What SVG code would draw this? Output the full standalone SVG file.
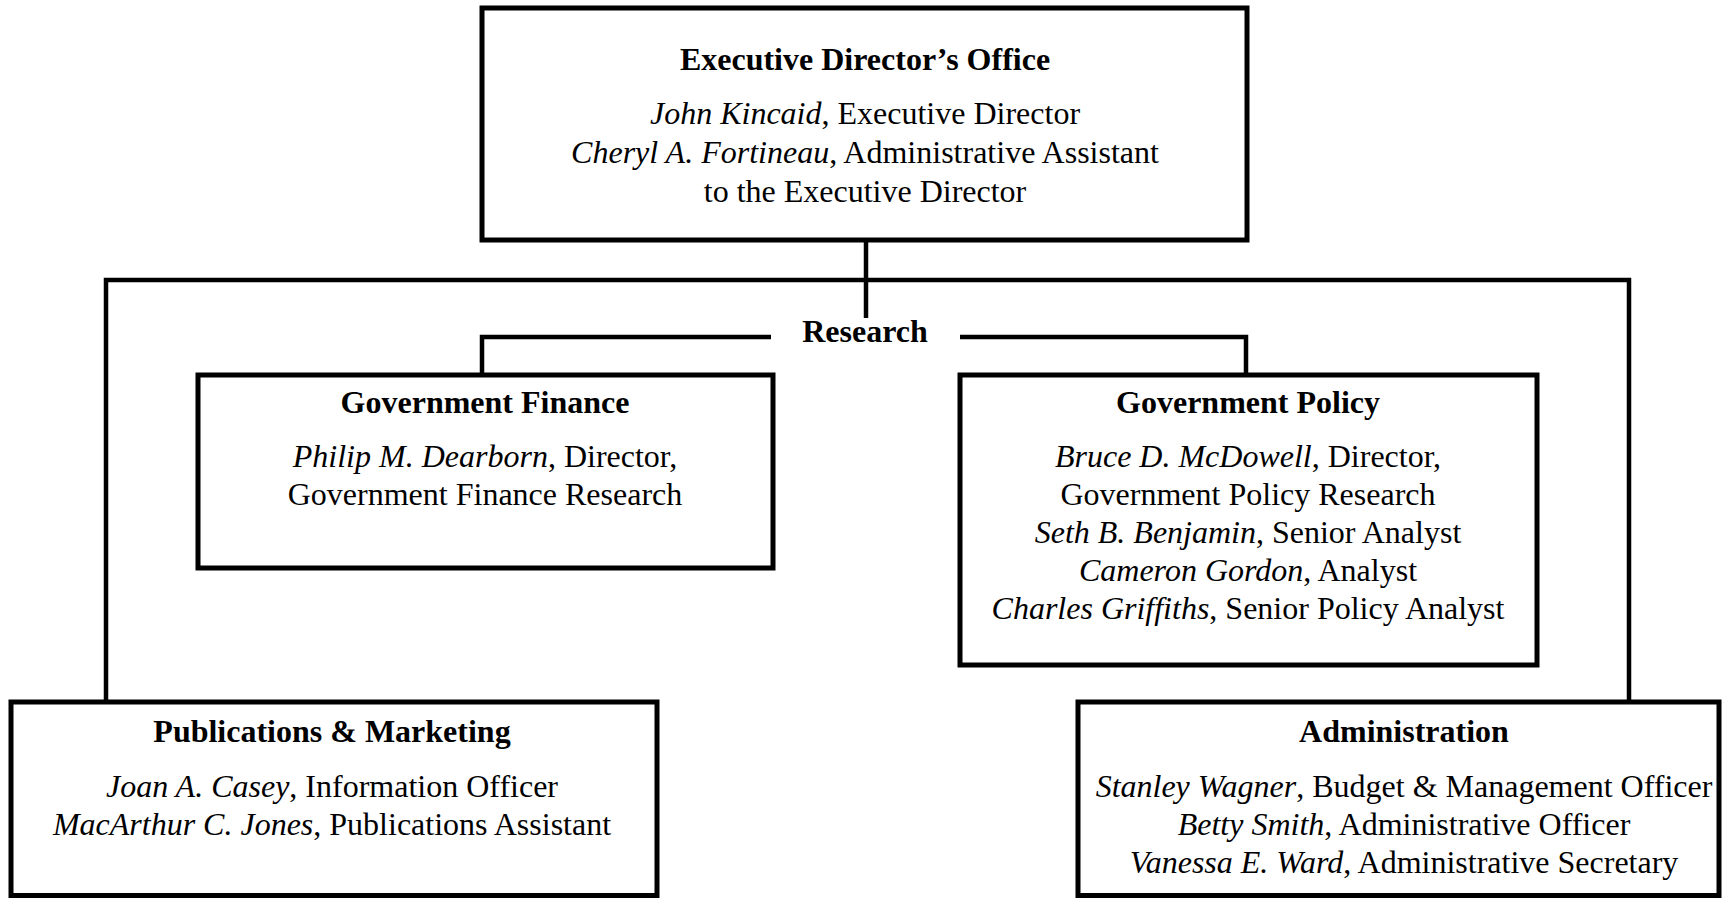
<svg xmlns="http://www.w3.org/2000/svg" width="1722" height="898" viewBox="0 0 1722 898">
  <style>
    .box { fill: #ffffff; stroke: #000000; stroke-width: 5; }
    .link { fill: none; stroke: #000000; stroke-width: 4.5; stroke-linejoin: miter; }
    text { font-family: "Liberation Serif", "Times New Roman", serif; font-size: 32px; fill: #000000; text-anchor: middle; }
    .title { font-weight: bold; }
    .name { font-style: italic; }
  </style>
  <rect x="0" y="0" width="1722" height="898" fill="#ffffff"/>

  <!-- connectors -->
  <g id="connectors">
    <!-- executive office down to the bus and to Research -->
    <line class="link" x1="866" y1="240" x2="866" y2="318"/>
    <!-- main bus to Publications and Administration -->
    <polyline class="link" points="106,702 106,280 1629,280 1629,702"/>
    <!-- Research branches -->
    <polyline class="link" points="482,375 482,337 771,337"/>
    <polyline class="link" points="960,337 1246,337 1246,375"/>
  </g>

  <g id="executive-office">
    <rect class="box" x="482" y="8" width="765" height="232"/>
    <text class="title" x="865" y="70">Executive Director’s Office</text>
    <text x="865" y="124"><tspan class="name">John Kincaid</tspan>, Executive Director</text>
    <text x="865" y="163"><tspan class="name">Cheryl A. Fortineau</tspan>, Administrative Assistant</text>
    <text x="865" y="202">to the Executive Director</text>
  </g>

  <g id="research">
    <text class="title" x="865" y="342">Research</text>
  </g>

  <g id="government-finance">
    <rect class="box" x="198" y="375" width="575" height="193"/>
    <text class="title" x="485" y="413">Government Finance</text>
    <text x="485" y="467"><tspan class="name">Philip M. Dearborn</tspan>, Director,</text>
    <text x="485" y="505">Government Finance Research</text>
  </g>

  <g id="government-policy">
    <rect class="box" x="960" y="375" width="577" height="290"/>
    <text class="title" x="1248" y="413">Government Policy</text>
    <text x="1248" y="467"><tspan class="name">Bruce D. McDowell</tspan>, Director,</text>
    <text x="1248" y="505">Government Policy Research</text>
    <text x="1248" y="543"><tspan class="name">Seth B. Benjamin</tspan>, Senior Analyst</text>
    <text x="1248" y="581"><tspan class="name">Cameron Gordon</tspan>, Analyst</text>
    <text x="1248" y="619"><tspan class="name">Charles Griffiths</tspan>, Senior Policy Analyst</text>
  </g>

  <g id="publications-marketing">
    <rect class="box" x="11" y="702" width="646" height="193.5"/>
    <text class="title" x="332" y="742">Publications &amp; Marketing</text>
    <text x="332" y="797"><tspan class="name">Joan A. Casey</tspan>, Information Officer</text>
    <text x="332" y="835"><tspan class="name">MacArthur C. Jones</tspan>, Publications Assistant</text>
  </g>

  <g id="administration">
    <rect class="box" x="1078" y="702" width="641" height="193.5"/>
    <text class="title" x="1404" y="742">Administration</text>
    <text x="1404" y="797"><tspan class="name">Stanley Wagner</tspan>, Budget &amp; Management Officer</text>
    <text x="1404" y="835"><tspan class="name">Betty Smith</tspan>, Administrative Officer</text>
    <text x="1404" y="873"><tspan class="name">Vanessa E. Ward</tspan>, Administrative Secretary</text>
  </g>
</svg>
